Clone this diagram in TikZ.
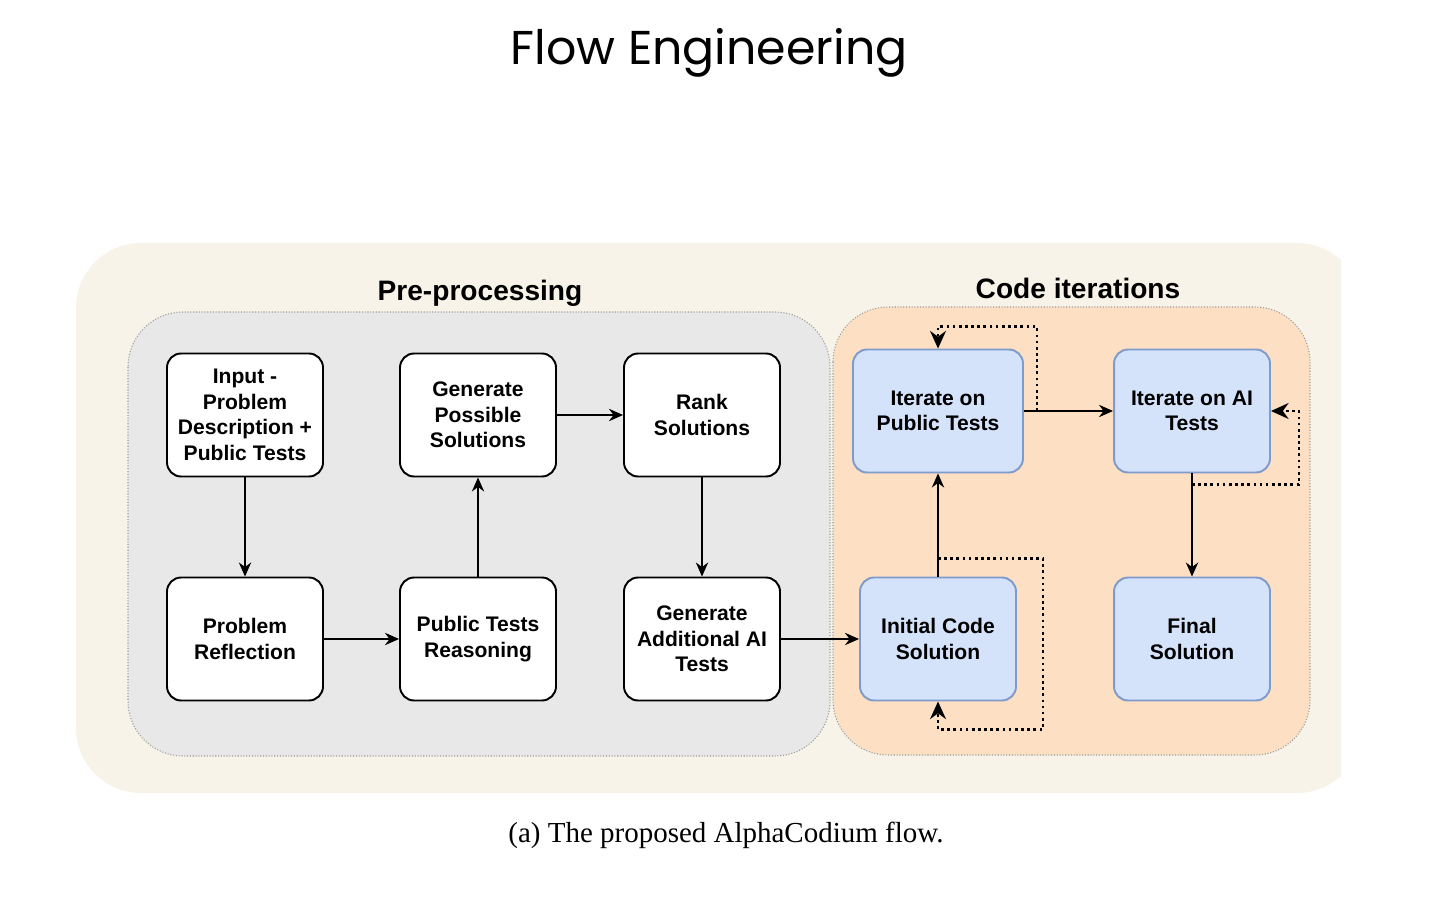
\documentclass[tikz,border=0pt]{standalone}
\usepackage{fontspec}
\setmainfont{Liberation Sans}
\newfontfamily\titlefont{Poppins}
\newfontfamily\capfont{Liberation Serif}
\usepackage{tikz}
\usetikzlibrary{arrows.meta, positioning}
\usepackage{xcolor}
\definecolor{creambg}{HTML}{F7F3E8}
\definecolor{greybg}{HTML}{E8E8E8}
\definecolor{peachbg}{HTML}{FDE0C4}
\definecolor{iterfill}{HTML}{D4E2FA}
\definecolor{iteredge}{HTML}{7F9BCB}

\begin{document}
\begin{tikzpicture}[x=0.02cm, y=-0.02cm,
  box/.style={draw, rounded corners=8pt, line width=1.1pt, minimum width=3.12cm, minimum height=2.46cm, align=center, fill=white, font=\fontsize{12}{14.5}\selectfont\bfseries},
  iterbox/.style={box, fill=iterfill, draw=iteredge},
  group/.style={draw=gray!80, densely dotted, line width=0.6pt, rounded corners=1.1cm},
  grouplabel/.style={font=\fontsize{16}{19}\selectfont\bfseries},
  arrow/.style={-{Stealth[length=8pt, width=7pt]}, line width=1pt},
  loop/.style={-{Stealth[length=10pt, width=9pt]}, dotted, line width=1.5pt}
]
\useasboundingbox (0,0) rectangle (1452,908);

\node[font=\titlefont\fontsize{27}{32}\selectfont] (title) at (709, 53) {Flow Engineering};

% backgrounds
\begin{scope}
  \clip (0,0) rectangle (1341,908);
  \fill[creambg, rounded corners=1.3cm] (76,243) rectangle (1362,793);
\end{scope}
\draw[group, fill=greybg] (128,312) rectangle (830,756);
\draw[group, fill=peachbg] (833,307) rectangle (1310,755);

\node[grouplabel] (prelabel) at (480, 293) {Pre-processing};
\node[grouplabel] (codelabel) at (1078, 288) {Code iterations};

% pre-processing steps
\node[box] (input) at (245, 415) {Input -\\Problem\\Description +\\Public Tests};
\node[box] (genposs) at (478, 415) {Generate\\Possible\\Solutions};
\node[box] (rank) at (702, 415) {Rank\\Solutions};
\node[box] (reflect) at (245, 639) {Problem\\Reflection};
\node[box] (reason) at (478, 639) {Public Tests\\Reasoning};
\node[box] (genai) at (702, 639) {Generate\\Additional AI\\Tests};

% code iterations
\node[iterbox, minimum width=3.4cm] (itpub) at (938, 411) {Iterate on\\Public Tests};
\node[iterbox] (itai) at (1192, 411) {Iterate on AI\\Tests};
\node[iterbox] (init) at (938, 639) {Initial Code\\Solution};
\node[iterbox] (final) at (1192, 639) {Final\\Solution};

\draw[arrow] (input) -- (reflect);
\draw[arrow] (reflect) -- (reason);
\draw[arrow] (reason) -- (genposs);
\draw[arrow] (genposs) -- (rank);
\draw[arrow] (rank) -- (genai);
\draw[arrow] (genai) -- (init);
\draw[arrow] (init) -- (itpub);
\draw[arrow] (itpub) -- (itai);
\draw[arrow] (itai) -- (final);

% self loops
\coordinate (pubfork) at ([xshift=0.26cm]itpub.east);
\coordinate (aifork) at ([yshift=-0.22cm]itai.south);
\coordinate (initfork) at ([yshift=0.36cm]init.north);
\draw[loop] (pubfork) |- ([yshift=0.44cm]itpub.north) -- (itpub.north);
\draw[loop] (aifork) -| ([xshift=0.56cm]itai.east) -- (itai.east);
\draw[loop] (initfork) -- ++(2.1cm,0) |- ([yshift=-0.56cm]init.south) -- (init.south);

\node[font=\capfont\fontsize{16.5}{19}\selectfont] (caption) at (726, 835) {(a) The proposed AlphaCodium flow.};
\end{tikzpicture}
\end{document}
